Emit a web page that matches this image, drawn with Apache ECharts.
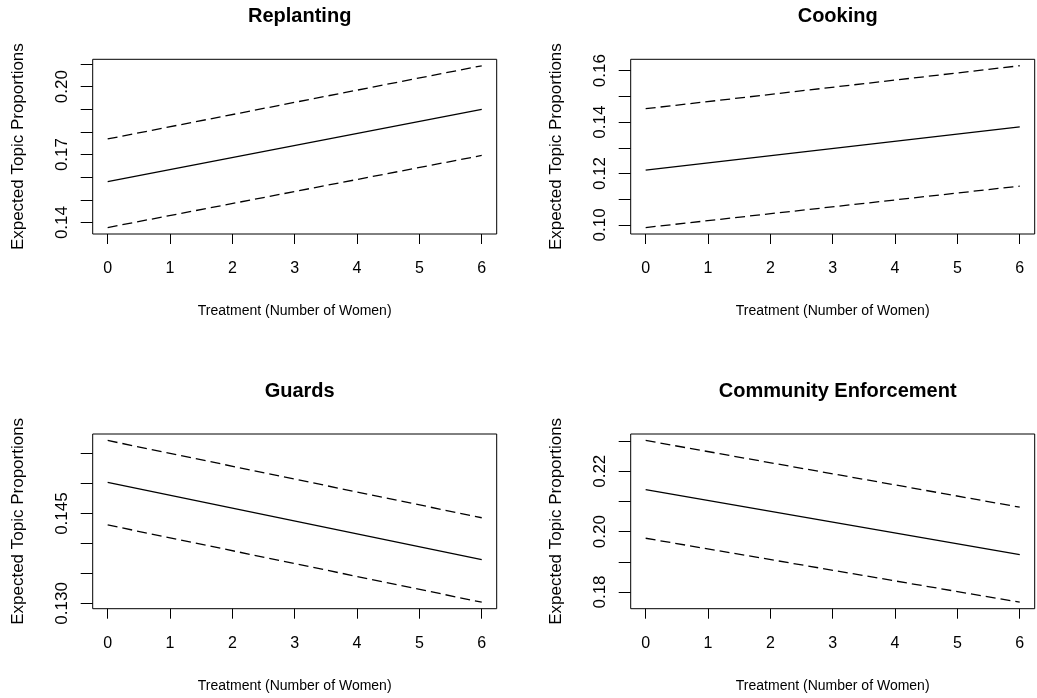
<!DOCTYPE html>
<html>
<head>
<meta charset="utf-8">
<script src="https://cdn.jsdelivr.net/npm/echarts@6/dist/echarts.min.js"></script>
<style>
  html, body { margin: 0; padding: 0; background: #fff; }
  #chart { width: 1037px; height: 698px; }
</style>
</head>
<body>
<div id="chart"></div>
<script>
// treatment values at the two ends of each fitted line
var treatment = [0, 6];

// Replanting
var replantingEst = [0.1581, 0.1900];
var replantingLo  = [0.1378, 0.1696];
var replantingHi  = [0.1769, 0.2092];
// Cooking
var cookingEst = [0.1213, 0.1381];
var cookingLo  = [0.0990, 0.1151];
var cookingHi  = [0.1452, 0.1619];
// Guards
var guardsEst = [0.1502, 0.1373];
var guardsLo  = [0.1431, 0.1302];
var guardsHi  = [0.1572, 0.1443];
// Community Enforcement
var enforceEst = [0.2139, 0.1924];
var enforceLo  = [0.1978, 0.1766];
var enforceHi  = [0.2302, 0.2081];

// tick marks and the labels R kept
var xTicks = [0, 1, 2, 3, 4, 5, 6];
var replantingTicks  = [0.14, 0.15, 0.16, 0.17, 0.18, 0.19, 0.20, 0.21];
var replantingLabels = [0.14, 0.17, 0.20];
var cookingTicks  = [0.10, 0.11, 0.12, 0.13, 0.14, 0.15, 0.16];
var cookingLabels = [0.10, 0.12, 0.14, 0.16];
var guardsTicks  = [0.130, 0.135, 0.140, 0.145, 0.150, 0.155];
var guardsLabels = [0.130, 0.145];
var enforceTicks  = [0.18, 0.19, 0.20, 0.21, 0.22, 0.23];
var enforceLabels = [0.18, 0.20, 0.22];

var panelTitles = ['Replanting', 'Cooking', 'Guards', 'Community Enforcement'];
var xName = 'Treatment (Number of Women)';
var yName = 'Expected Topic Proportions';

var FONT = 'Liberation Sans, Arial, Helvetica, sans-serif';

var panels = [
    { est: replantingEst, lo: replantingLo, hi: replantingHi, ticks: replantingTicks, labels: replantingLabels, digits: 2 },
    { est: cookingEst, lo: cookingLo, hi: cookingHi, ticks: cookingTicks, labels: cookingLabels, digits: 2 },
    { est: guardsEst, lo: guardsLo, hi: guardsHi, ticks: guardsTicks, labels: guardsLabels, digits: 3 },
    { est: enforceEst, lo: enforceLo, hi: enforceHi, ticks: enforceTicks, labels: enforceLabels, digits: 2 }
];

// plot boxes (R's plot region)
var boxLeft = [92.7, 630.7, 92.7, 630.7];
var boxTop = [59.3, 59.3, 434, 434];
var boxW = 404, boxH = 174.7;

function pairs(ys) {
    var out = [];
    for (var i = 0; i < treatment.length; i++) {
        out.push([treatment[i], ys[i]]);
    }
    return out;
}

var grid = [], xAxis = [], yAxis = [], series = [], title = [];

for (var i = 0; i < panels.length; i++) {
    var p = panels[i];
    var all = p.est.concat(p.lo, p.hi);
    var lo = Math.min.apply(null, all), hi = Math.max.apply(null, all);
    var pad = (hi - lo) * 0.04; // R's default axis extension

    grid.push({
        left: boxLeft[i], top: boxTop[i], width: boxW, height: boxH,
        show: true, borderColor: '#000', borderWidth: 1, backgroundColor: 'transparent'
    });
    title.push({
        text: panelTitles[i],
        left: boxLeft[i] + boxW / 2,
        top: boxTop[i] - 58,
        textAlign: 'center',
        textStyle: { fontFamily: FONT, fontSize: 20, fontWeight: 'bold', color: '#000' }
    });
    xAxis.push({
        type: 'value', gridIndex: i,
        min: -0.24, max: 6.24,
        name: xName, nameLocation: 'middle', nameGap: 70,
        nameTextStyle: { fontFamily: FONT, fontSize: 14, color: '#000' },
        axisLine: { show: false, onZero: false },
        axisTick: { show: true, inside: false, length: 10, customValues: xTicks, lineStyle: { color: '#000' } },
        axisLabel: { customValues: xTicks, margin: 27, fontFamily: FONT, fontSize: 16, color: '#000' },
        splitLine: { show: false }
    });
    (function(digits) {
        yAxis.push({
            type: 'value', gridIndex: i,
            min: lo - pad, max: hi + pad,
            name: yName, nameLocation: 'middle', nameGap: 66,
            nameTextStyle: { fontFamily: FONT, fontSize: 17, color: '#000' },
            axisLine: { show: false, onZero: false },
            axisTick: { show: true, inside: false, length: 12, customValues: p.ticks, lineStyle: { color: '#000' } },
            axisLabel: {
                customValues: p.labels, rotate: 90, margin: 22,
                fontFamily: FONT, fontSize: 17, color: '#000',
                formatter: function(v) { return v.toFixed(digits); }
            },
            splitLine: { show: false }
        });
    })(p.digits);

    var sets = [[p.est, 'solid'], [p.lo, [10, 5]], [p.hi, [10, 5]]];
    for (var k = 0; k < sets.length; k++) {
        series.push({
            type: 'line', xAxisIndex: i, yAxisIndex: i,
            data: pairs(sets[k][0]),
            symbol: 'none', silent: true, animation: false,
            lineStyle: { color: '#000', width: 1.3, type: sets[k][1] }
        });
    }
}

var chart = echarts.init(document.getElementById('chart'));
chart.setOption({
    animation: false,
    backgroundColor: '#fff',
    title: title,
    grid: grid,
    xAxis: xAxis,
    yAxis: yAxis,
    series: series
});
</script>
</body>
</html>
